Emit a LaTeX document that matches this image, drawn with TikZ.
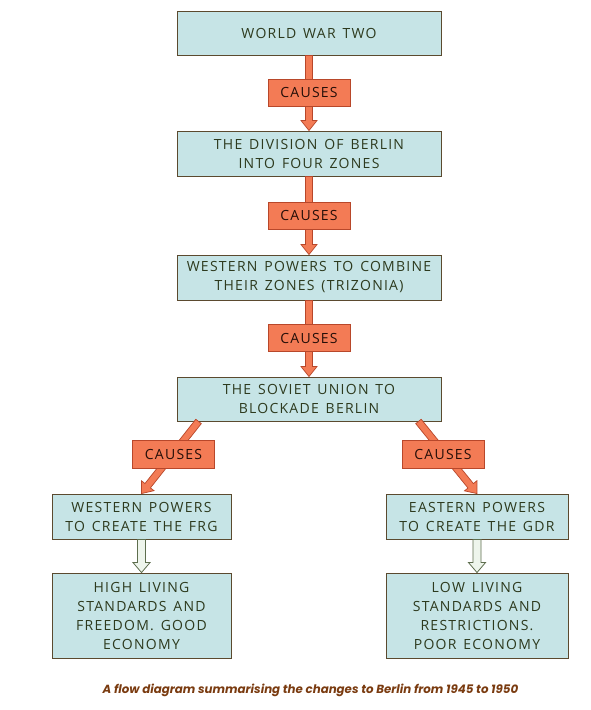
\documentclass[tikz,border=0pt]{standalone}
\usepackage{fontspec}
\setmainfont{Open Sans}
\newfontfamily\boxfont{Open Sans}[LetterSpace=9,WordSpace=1.4]
\newfontfamily\capfont{Poppins}
\usetikzlibrary{calc}
\definecolor{boxfill}{HTML}{C6E4E6}
\definecolor{boxline}{HTML}{5B4A2F}
\definecolor{txt}{HTML}{2D3A1E}
\definecolor{orfill}{HTML}{F37B55}
\definecolor{orline}{HTML}{B8472A}
\definecolor{hfill}{HTML}{EEF5EC}
\definecolor{hline}{HTML}{5E6E4E}
\definecolor{capc}{HTML}{7A3B10}
\tikzset{
  mainbox/.style={draw=boxline, fill=boxfill, line width=0.9pt, text=txt,
    align=center, font=\boxfont\fontsize{14}{19}\selectfont, inner sep=0pt},
  causebox/.style={draw=orline, fill=orfill, line width=0.9pt, text=black!80!orline,
    minimum width=82pt, minimum height=27pt, inner sep=0pt,
    font=\boxfont\fontsize{14}{15}\selectfont},
  solidarrow/.style={fill=orfill, draw=orline, line width=0.7pt, line join=miter},
  hollowarrow/.style={fill=hfill, draw=hline, line width=0.8pt, line join=miter},
}
\newcommand\blockarrow[5]{% start, end, style, half shaft, half head
  \coordinate (bA) at #1; \coordinate (bB) at #2;
  \coordinate (bH) at ($(bB)!10pt!(bA)$);
  \draw[#3] ($(bA)!#4!90:(bB)$) -- ($(bH)!#4!90:(bB)$) -- ($(bH)!#5!90:(bB)$)
    -- (bB) -- ($(bH)!#5!-90:(bB)$) -- ($(bH)!#4!-90:(bB)$) -- ($(bA)!#4!-90:(bB)$) -- cycle;
}
\begin{document}
\begin{tikzpicture}[x=1pt,y=-1pt]
\useasboundingbox (0,0) rectangle (590,710);
\fill[white] (0,0) rectangle (590,710);
% main boxes
\node[mainbox, minimum width=264pt, minimum height=44pt] (b1) at (309,33) {WORLD WAR TWO};
\node[mainbox, minimum width=264pt, minimum height=45pt] (b2) at (309,153.5) {THE DIVISION OF BERLIN\\INTO FOUR ZONES};
\node[mainbox, minimum width=264pt, minimum height=45pt] (b3) at (309,277.5) {WESTERN POWERS TO COMBINE\\THEIR ZONES (TRIZONIA)};
\node[mainbox, minimum width=264pt, minimum height=44pt] (b4) at (309,399) {THE SOVIET UNION TO\\BLOCKADE BERLIN};
\node[mainbox, minimum width=179pt, minimum height=45pt] (b5l) at (141.5,516.5) {WESTERN POWERS\\TO CREATE THE FRG};
\node[mainbox, minimum width=182pt, minimum height=45pt] (b5r) at (477,516.5) {EASTERN POWERS\\TO CREATE THE GDR};
\node[mainbox, minimum width=179pt, minimum height=85pt] (b6l) at (141.5,615.5) {HIGH LIVING\\STANDARDS AND\\FREEDOM. GOOD\\ECONOMY};
\node[mainbox, minimum width=182pt, minimum height=85pt] (b6r) at (477,615.5) {LOW LIVING\\STANDARDS AND\\RESTRICTIONS.\\POOR ECONOMY};
% arrows
\blockarrow{(b1.south)}{(b2.north)}{solidarrow}{3.5pt}{8pt}
\blockarrow{(b2.south)}{(b3.north)}{solidarrow}{3.5pt}{8pt}
\blockarrow{(b3.south)}{(b4.north)}{solidarrow}{3.5pt}{8pt}
\blockarrow{($(b4.south west)+(22,0)$)}{(b5l.north)}{solidarrow}{3.5pt}{8pt}
\blockarrow{($(b4.south east)+(-23,0)$)}{(b5r.north)}{solidarrow}{3.5pt}{8pt}
\blockarrow{(b5l.south)}{(b6l.north)}{hollowarrow}{4pt}{8.5pt}
\blockarrow{(b5r.south)}{(b6r.north)}{hollowarrow}{4pt}{8.5pt}
% causes labels
\node[causebox] (c1) at (309,92.5) {CAUSES};
\node[causebox] (c2) at (309,215.5) {CAUSES};
\node[causebox] (c3) at (309,338) {CAUSES};
\node[causebox, minimum height=28pt] (cl) at (173.5,454.5) {CAUSES};
\node[causebox, minimum height=28pt] (cr) at (443,454.5) {CAUSES};
% caption
\node[text=capc, font=\capfont\itshape\bfseries\fontsize{11.8}{13}\selectfont] (cap) at (310.5,690) {A flow diagram summarising the changes to Berlin from 1945 to 1950};
\end{tikzpicture}
\end{document}
